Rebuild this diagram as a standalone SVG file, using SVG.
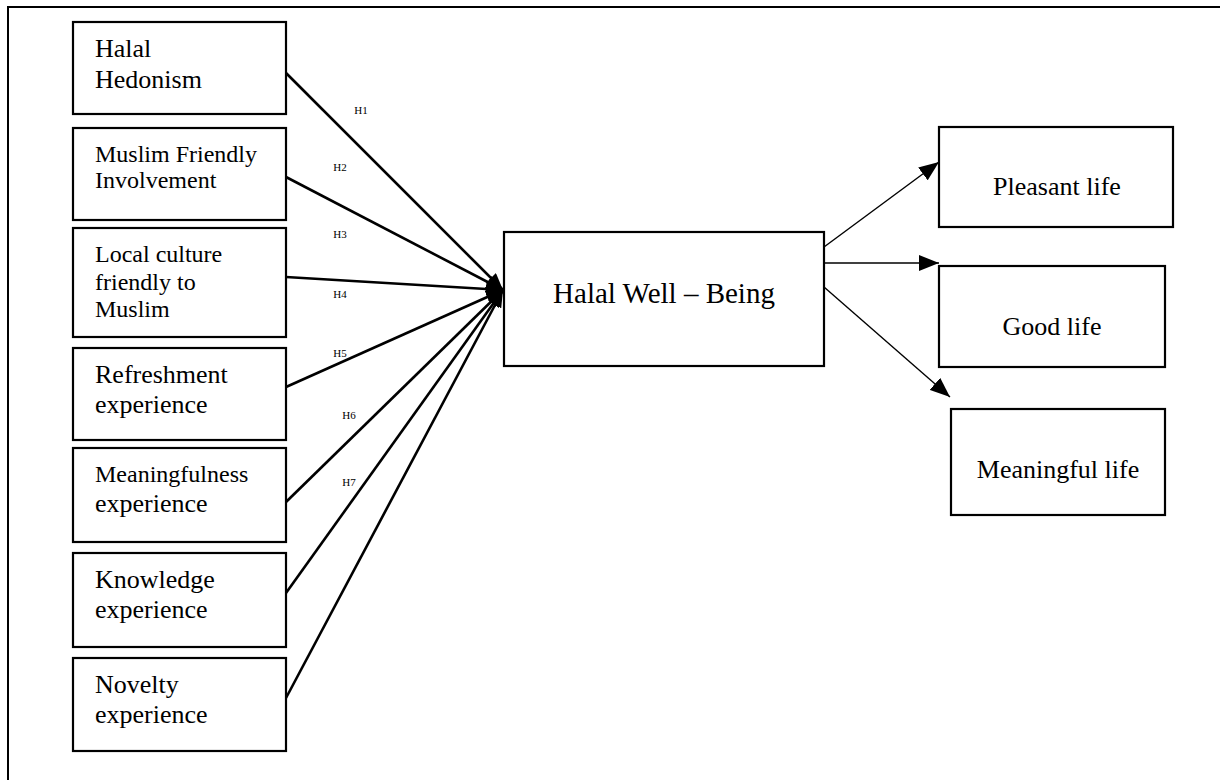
<svg xmlns="http://www.w3.org/2000/svg" width="1220" height="780" viewBox="0 0 1220 780">
<style>
.box{fill:#fff;stroke:#000;stroke-width:2.2}
.t{font-family:"Liberation Serif","Times New Roman",serif;fill:#000}
.h{font-family:"Liberation Serif","Times New Roman",serif;font-size:11px;fill:#000}
.thick{stroke:#000;stroke-width:2.6;fill:none}
.thin{stroke:#000;stroke-width:1.4;fill:none}
</style>
<defs>
<marker id="ah" markerUnits="userSpaceOnUse" markerWidth="18" markerHeight="14" refX="17" refY="7" orient="auto">
<path d="M0,0 L17,7 L0,14 z" fill="#000"/>
</marker>
<marker id="ah2" markerUnits="userSpaceOnUse" markerWidth="21" markerHeight="16" refX="20" refY="8" orient="auto">
<path d="M0,0 L20,8 L0,16 z" fill="#000"/>
</marker>
</defs>
<rect width="1220" height="780" fill="#fff"/>
<path d="M8,780 V7 H1220" fill="none" stroke="#000" stroke-width="2"/>

<g id="connectors">
<line class="thick" x1="286" y1="73" x2="503" y2="290" marker-end="url(#ah)"/>
<line class="thick" x1="286" y1="177" x2="503" y2="290" marker-end="url(#ah)"/>
<line class="thick" x1="286" y1="277" x2="503" y2="290" marker-end="url(#ah)"/>
<line class="thick" x1="286" y1="387" x2="503" y2="290" marker-end="url(#ah)"/>
<line class="thick" x1="286" y1="502" x2="503" y2="290" marker-end="url(#ah)"/>
<line class="thick" x1="286" y1="593" x2="503" y2="290" marker-end="url(#ah)"/>
<line class="thick" x1="286" y1="698" x2="503" y2="290" marker-end="url(#ah)"/>
<line class="thin" x1="824" y1="247" x2="939" y2="162" marker-end="url(#ah2)"/>
<line class="thin" x1="824" y1="263" x2="939" y2="263" marker-end="url(#ah2)"/>
<line class="thin" x1="824" y1="287" x2="950" y2="397" marker-end="url(#ah2)"/>
<text class="h" x="361" y="114" text-anchor="middle">H1</text>
<text class="h" x="340" y="171" text-anchor="middle">H2</text>
<text class="h" x="340" y="238" text-anchor="middle">H3</text>
<text class="h" x="340" y="298" text-anchor="middle">H4</text>
<text class="h" x="340" y="357" text-anchor="middle">H5</text>
<text class="h" x="349" y="419" text-anchor="middle">H6</text>
<text class="h" x="349" y="486" text-anchor="middle">H7</text>
</g>

<g id="n-hedonism">
<rect class="box" x="73" y="22" width="213" height="92"/>
<text class="t" x="95" y="57" font-size="26">Halal</text>
<text class="t" x="95" y="88" font-size="26">Hedonism</text>
</g>
<g id="n-involvement">
<rect class="box" x="73" y="128" width="213" height="92"/>
<text class="t" x="95" y="162" font-size="24">Muslim Friendly</text>
<text class="t" x="95" y="188" font-size="24">Involvement</text>
</g>
<g id="n-localculture">
<rect class="box" x="73" y="228" width="213" height="109"/>
<text class="t" x="95" y="262" font-size="24">Local culture</text>
<text class="t" x="95" y="290" font-size="24">friendly to</text>
<text class="t" x="95" y="317" font-size="24">Muslim</text>
</g>
<g id="n-refreshment">
<rect class="box" x="73" y="348" width="213" height="92"/>
<text class="t" x="95" y="383" font-size="26">Refreshment</text>
<text class="t" x="95" y="413" font-size="26">experience</text>
</g>
<g id="n-meaningfulness">
<rect class="box" x="73" y="448" width="213" height="94"/>
<text class="t" x="95" y="482" font-size="24">Meaningfulness</text>
<text class="t" x="95" y="512" font-size="26">experience</text>
</g>
<g id="n-knowledge">
<rect class="box" x="73" y="553" width="213" height="94"/>
<text class="t" x="95" y="588" font-size="26">Knowledge</text>
<text class="t" x="95" y="618" font-size="26">experience</text>
</g>
<g id="n-novelty">
<rect class="box" x="73" y="658" width="213" height="93"/>
<text class="t" x="95" y="693" font-size="26">Novelty</text>
<text class="t" x="95" y="723" font-size="26">experience</text>
</g>
<g id="n-wellbeing">
<rect class="box" x="504" y="232" width="320" height="134"/>
<text class="t" x="664" y="303" font-size="29" text-anchor="middle">Halal Well – Being</text>
</g>
<g id="n-pleasant">
<rect class="box" x="939" y="127" width="234" height="100"/>
<text class="t" x="1057" y="195" font-size="26" text-anchor="middle">Pleasant life</text>
</g>
<g id="n-good">
<rect class="box" x="939" y="266" width="226" height="101"/>
<text class="t" x="1052" y="335" font-size="26" text-anchor="middle">Good life</text>
</g>
<g id="n-meaningful">
<rect class="box" x="951" y="409" width="214" height="106"/>
<text class="t" x="1058" y="478" font-size="26" text-anchor="middle">Meaningful life</text>
</g>
</svg>
